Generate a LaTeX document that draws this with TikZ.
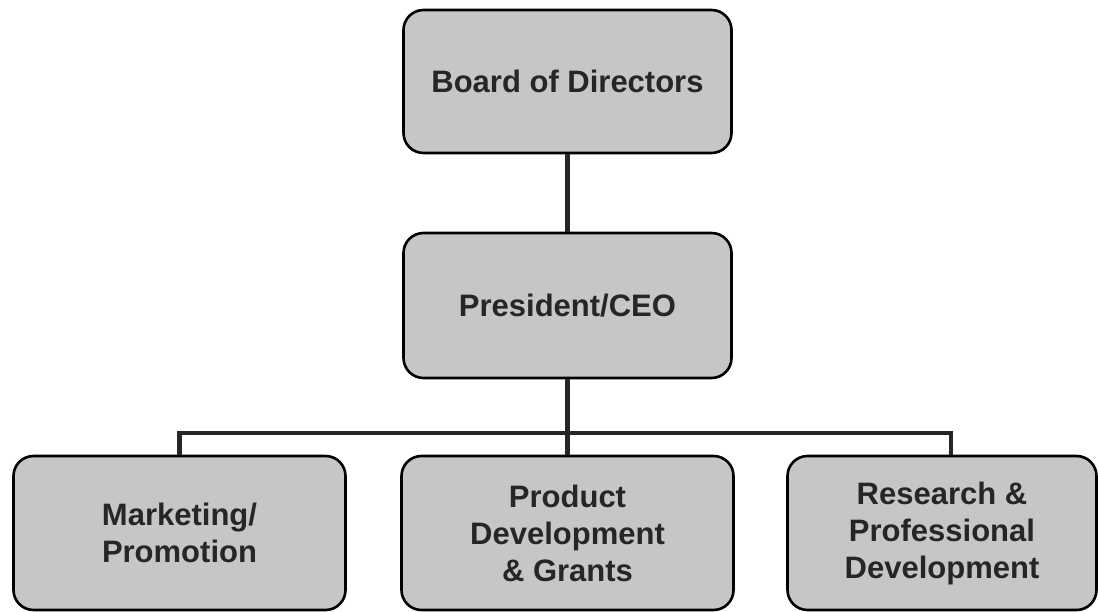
\documentclass[tikz,border=0pt]{standalone}
\usepackage{fontspec}
\setmainfont{Liberation Sans}
\definecolor{boxgray}{RGB}{198,198,198}
\tikzset{
  orgbox/.style={draw=black, line width=2.6pt, fill=boxgray, rounded corners=20pt,
    align=center, inner sep=0pt, font=\bfseries\fontsize{31}{37}\selectfont,
    text=black!85},
  orgline/.style={line width=4.2pt, draw=black!85}
}
\begin{document}
\begin{tikzpicture}[x=1pt,y=-1pt]
      \useasboundingbox (0,0) rectangle (1098,612);
      \node[orgbox, minimum width=328pt, minimum height=143pt] (board) at (567.5,81.5) {Board of Directors};
      \node[orgbox, minimum width=328pt, minimum height=145pt] (pres) at (567.5,305.5) {President/CEO};
      \node[orgbox, minimum width=332pt, minimum height=154pt] (mark) at (179.5,533) {Marketing/\\Promotion};
      \node[orgbox, minimum width=332pt, minimum height=154pt] (prod) at (567.5,533) {Product\\Development\\\& Grants};
      \node[orgbox, minimum width=309pt, minimum height=154pt] (res) at (942,533) {Research \&\\Professional\\Development};
      \coordinate (bus) at (567.5,433);
      \coordinate (restop) at ([xshift=9pt]res.north);
      \draw[orgline] (board) -- (pres);
      \draw[orgline] (pres) -- (prod);
      \draw[orgline] (mark.north) |- (bus) -| (restop);
\end{tikzpicture}
\end{document}
